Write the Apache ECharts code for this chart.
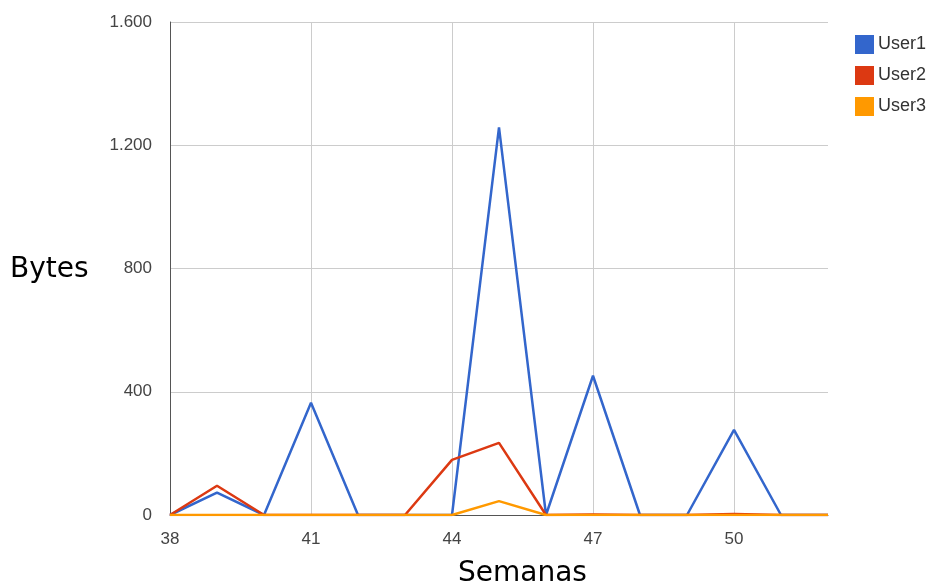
<!DOCTYPE html>
<html>
<head>
<meta charset="utf-8">
<script src="https://cdn.jsdelivr.net/npm/echarts@6/dist/echarts.min.js"></script>
<style>
  html, body { margin: 0; padding: 0; background: #fff; }
  #chart { width: 933px; height: 585px; }
</style>
</head>
<body>
<div id="chart"></div>
<script>
var semanas = ['38', '39', '40', '41', '42', '43', '44', '45', '46', '47', '48', '49', '50', '51', '52'];
var user1 = [0, 73, 0, 364, 0, 0, 0, 1258, 0, 452, 0, 0, 276, 0, 0];
var user2 = [0, 95, 0, 0, 0, 0, 179, 234, 0, 2, 0, 0, 3, 0, 0];
var user3 = [0, 0, 0, 0, 0, 0, 0, 45, 0, 0, 0, 0, 0, 0, 0];

var chart = echarts.init(document.getElementById('chart'));

function fmt(v) {
  return String(v).replace(/\B(?=(\d{3})+(?!\d))/g, '.');
}

var option = {
  animation: false,
  color: ['#3366cc', '#dc3912', '#ff9900'],
  grid: { left: 170, right: 105, top: 22, bottom: 70 },
  legend: {
    orient: 'vertical',
    left: 850,
    top: 30,
    itemWidth: 19,
    itemHeight: 19,
    itemGap: 12,
    icon: 'rect',
    textStyle: { fontFamily: 'Liberation Sans', fontSize: 18, color: '#333', padding: [0, 0, 0, -1] },
    data: ['User1', 'User2', 'User3']
  },
  graphic: [
    { type: 'text', left: 10, top: 256, style: { text: 'Bytes', font: '28px "DejaVu Sans"', fill: '#000' } },
    { type: 'text', left: 458, top: 560, style: { text: 'Semanas', font: '28px "DejaVu Sans"', fill: '#000' } }
  ],
  xAxis: {
    type: 'category',
    boundaryGap: false,
    data: semanas,
    axisLine: { lineStyle: { color: '#555', width: 1 } },
    axisTick: { show: false },
    axisLabel: { interval: 2, margin: 16, fontFamily: 'Liberation Sans', fontSize: 17, color: '#444' },
    splitLine: { show: true, interval: 2, lineStyle: { color: '#cccccc' } }
  },
  yAxis: {
    type: 'value',
    min: 0,
    max: 1600,
    interval: 400,
    axisLine: { show: true, lineStyle: { color: '#555', width: 1 } },
    axisTick: { show: false },
    axisLabel: { margin: 18, fontFamily: 'Liberation Sans', fontSize: 17, color: '#444', formatter: fmt },
    splitLine: { lineStyle: { color: '#cccccc' } }
  },
  series: [
    { name: 'User1', type: 'line', data: user1, symbol: 'none', lineStyle: { width: 2.5 } },
    { name: 'User2', type: 'line', data: user2, symbol: 'none', lineStyle: { width: 2.5 } },
    { name: 'User3', type: 'line', data: user3, symbol: 'none', lineStyle: { width: 2.5 } }
  ]
};

chart.setOption(option);
</script>
</body>
</html>
